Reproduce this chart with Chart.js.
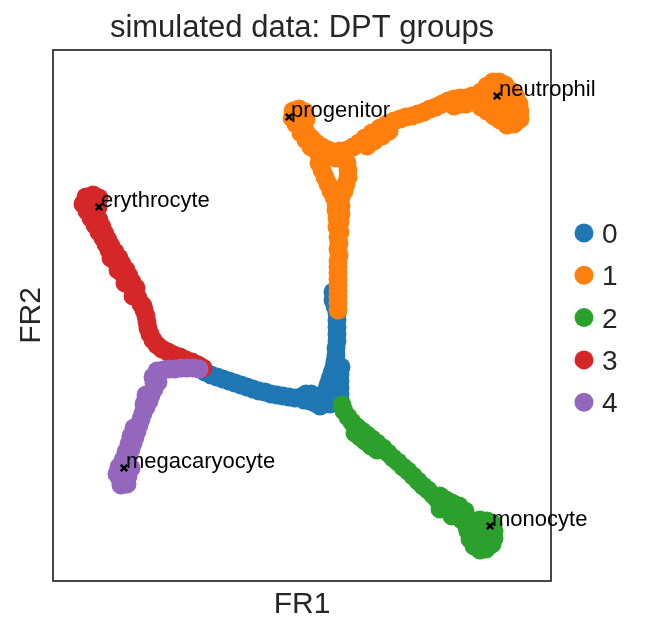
<!DOCTYPE html>
<html>
<head>
<meta charset="utf-8">
<script src="https://cdn.jsdelivr.net/npm/chart.js@4.4.0/dist/chart.umd.min.js"></script>
<style>
  html, body { margin: 0; padding: 0; background: #fff; }
  #wrap { width: 646px; height: 637px; }
</style>
</head>
<body>
<div id="wrap"><canvas id="chart" width="646" height="637"></canvas></div>
<script>
// ---- Data (FR1 / FR2, in image pixel units) ----
const titleText = "simulated data: DPT groups";
const categories = ["0", "1", "2", "3", "4"];
const colors = ["#1f77b4", "#ff7f0e", "#2ca02c", "#d62728", "#9467bd"];

const group0 = [
  [333,292],[333,300],[335,306],[337,313],[337,320],[337,327],[337,334],[337,341],[336,348],[336,355],
  [335,361],[334,367],[341,367],[332,373],[340,374],[330,379],[340,381],[328,385],[334,385],[340,388],
  [326,391],[333,392],[340,394],[327,398],[334,398],[340,400],[330,404],[324,404],
  [205,372],[211,375],[217,377],[223,379],[229,381],[235,383],[241,385],[247,387],[253,389],[259,391],
  [265,392],[271,394],[277,395],[283,396],[289,397],[295,398],[301,397],[306,394],[311,394],[316,397],
  [320,401],[304,400],[310,401],[315,403],[320,406]
];

const group1 = [
  [293,111],[299,109],[305,112],[292,118],[299,117],[306,119],[296,124],[303,126],
  [306,132],[301,133],[311,138],[306,140],[316,143],[311,147],[322,147],[317,151],[328,150],[334,152],
  [340,151],[347,150],[353,147],[359,143],
  [365,138],[367,146],[372,133],[374,141],[380,128],[382,136],[387,124],[389,131],[394,121],[400,119],
  [406,117],[412,116],[418,114],[424,112],[430,109],[436,107],[442,104],[448,101],[454,99],[454,106],
  [460,98],[460,104],[466,98],[466,104],[472,96],[474,102],
  [481,92],[487,86],[493,82],[499,82],[505,85],[511,91],[516,97],[519,104],[520,111],[520,119],
  [514,124],[507,125],[500,120],[494,116],[487,111],[481,107],[487,98],[494,94],[500,92],[506,98],
  [511,105],[512,114],[505,111],[498,104],[492,104],[484,102],[478,100],
  [320,157],[328,156],[336,158],[344,157],[319,163],[322,170],[325,177],[328,184],[331,191],
  [347,163],[348,170],[348,177],[346,184],[344,191],[334,197],[341,197],
  [336,203],[341,206],[336,210],[341,214],[337,218],[340,222],[337,227],[340,232],[338,237],[339,243],
  [338,249],[339,255],[338,261],[338,267],[338,273],[338,279],[338,285],[338,291],[338,297],[338,303],
  [338,310]
];

const group2 = [
  [342,405],[344,411],[348,417],[352,422],[357,427],[355,433],[362,431],[360,437],[367,435],[365,441],
  [372,439],[371,446],[377,443],[377,450],[383,448],[388,453],[393,458],[398,462],[403,467],[408,471],
  [413,476],[418,481],[423,486],[428,490],[433,495],[437,499],[440,496],[442,503],[446,500],[448,507],
  [440,509],[452,503],[454,510],[452,516],[459,506],[460,513],[465,511],[462,520],[467,527],
  [473,521],[480,520],[487,521],[493,524],[494,531],[494,538],[492,544],[486,549],[480,550],[474,546],
  [470,539],[468,531],[476,528],[484,528],[488,535],[481,537],[476,540],[483,543]
];

const group3 = [
  [86,197],[93,195],[99,198],[83,204],[91,204],[98,207],[87,211],[95,213],[91,218],[99,220],
  [95,225],[102,227],[99,232],[103,238],[106,244],[109,250],[113,256],[111,258],[116,262],[120,268],
  [118,270],[123,274],[127,280],[125,283],[131,286],[134,292],[133,296],[138,298],[141,304],[143,306],
  [144,310],[146,316],[147,322],[148,328],[150,334],[153,340],[157,345],[162,349],[168,352],[174,355],
  [180,357],[186,360],[192,362],[198,365],[203,368],
  [105,234],[108,240],[111,246],[115,252],[119,258],[122,264],[126,270],[129,276],[132,282],[136,288]
];

const group4 = [
  [199,369],[193,368],[187,368],[181,368],[175,369],[169,369],[163,370],[157,371],[153,377],[154,383],
  [158,382],[154,389],[151,395],[146,395],[149,401],[144,404],[146,407],[143,413],[141,419],[139,425],
  [137,431],[135,437],[133,443],[131,449],[129,455],[127,461],[125,467],[122,473],[120,479],[121,485],
  [127,484],[128,476],[131,468],
  [134,428],[131,436],[129,444],[126,452],[123,460],[119,467],[117,474]
];

const rootNames = ["progenitor", "neutrophil", "erythrocyte", "megacaryocyte", "monocyte"];
const rootPoints = [[289,117],[497,96],[99,207],[124,468],[490,526]];

const groups = [group0, group1, group2, group3, group4];
// draw blue first, purple last (higher order is drawn earlier)
const drawOrder = [5, 3, 2, 4, 1];

const FONT = "'Liberation Sans', Arial, Helvetica, sans-serif";

// ---- Decorations: frame, title, axis names, legend, root labels ----
const decor = {
  id: "decor",
  afterDraw(chart) {
    const {ctx, chartArea: a, scales: {x, y}} = chart;
    ctx.save();
    ctx.strokeStyle = "#1a1a1a";
    ctx.lineWidth = 1.6;
    ctx.strokeRect(a.left, a.top, a.right - a.left, a.bottom - a.top);

    const cx = (a.left + a.right) / 2;
    ctx.fillStyle = "#262626";
    ctx.textAlign = "center";
    ctx.textBaseline = "alphabetic";
    ctx.font = "31px " + FONT;
    ctx.fillText(titleText, cx, 37);
    ctx.font = "30px " + FONT;
    ctx.fillText("FR1", cx, 613);
    ctx.save();
    ctx.translate(40, (a.top + a.bottom) / 2);
    ctx.rotate(-Math.PI / 2);
    ctx.fillText("FR2", 0, 0);
    ctx.restore();

    // legend
    ctx.textAlign = "left";
    ctx.font = "28px " + FONT;
    categories.forEach((c, i) => {
      const ly = 233 + i * 42.3;
      ctx.beginPath();
      ctx.arc(a.right + 33, ly, 9.5, 0, Math.PI * 2);
      ctx.fillStyle = colors[i];
      ctx.fill();
      ctx.fillStyle = "#262626";
      ctx.fillText(c, a.right + 51, ly + 10);
    });

    // root labels
    ctx.fillStyle = "#000";
    ctx.font = "22px " + FONT;
    rootNames.forEach((n, i) => {
      ctx.fillText(n, x.getPixelForValue(rootPoints[i][0]) + 2, y.getPixelForValue(rootPoints[i][1]));
    });
    ctx.restore();
  }
};

const datasets = groups.map((g, i) => ({
  label: categories[i],
  data: g.map(p => ({x: p[0], y: p[1]})),
  backgroundColor: colors[i],
  borderWidth: 0,
  pointRadius: 9.5,
  pointHoverRadius: 9.5,
  order: drawOrder[i],
}));

datasets.push({
  label: "roots",
  data: rootPoints.map(p => ({x: p[0], y: p[1]})),
  pointStyle: "crossRot",
  borderColor: "#000",
  borderWidth: 2.6,
  pointRadius: 4.5,
  order: 0,
});

new Chart(document.getElementById("chart"), {
  type: "scatter",
  data: {datasets},
  options: {
    responsive: false,
    animation: false,
    layout: {padding: {left: 53, right: 95, top: 50, bottom: 56}},
    scales: {
      x: {type: "linear", display: false, min: 53, max: 551},
      y: {type: "linear", display: false, min: 50, max: 581, reverse: true},
    },
    plugins: {
      legend: {display: false},
      tooltip: {enabled: false},
    },
  },
  plugins: [decor],
});
</script>
</body>
</html>
